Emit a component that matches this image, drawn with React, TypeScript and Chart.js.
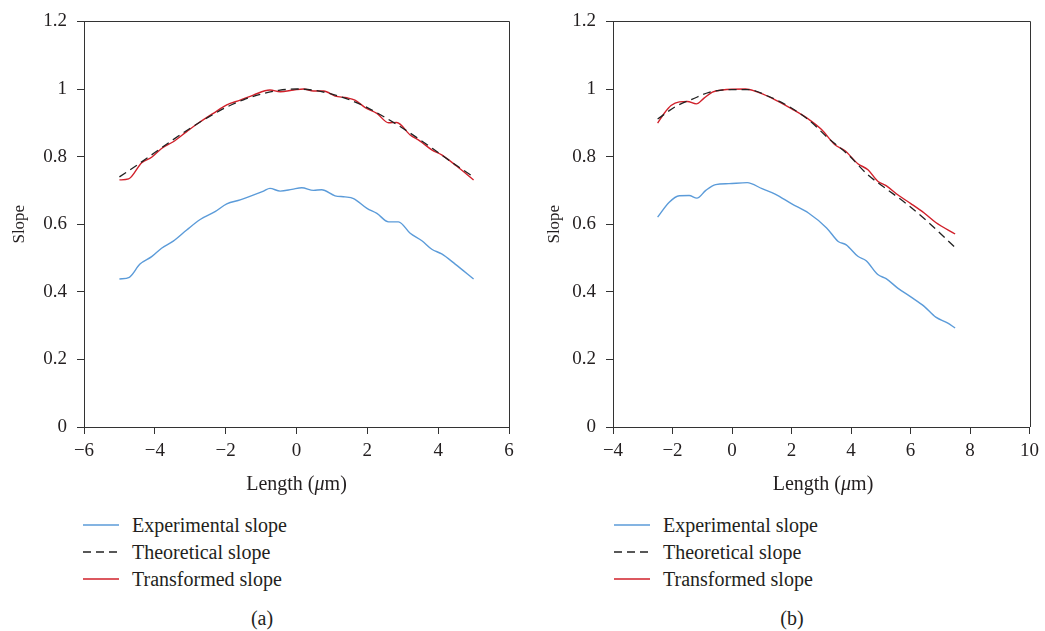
import React, { useEffect, useRef } from 'react';
import { Chart, registerables } from 'chart.js';

Chart.register(...registerables);

const FONT = '"Liberation Serif", "Times New Roman", serif';
const TEXT = '#231f20';
const AXIS = '#333333';
const BLUE = '#5b9bd9';
const RED = '#d0202a';
const DASH = '#222222';

// ---- Panel (a) data ----
const xA_exp = [-5.0, -4.72, -4.42, -4.09, -3.81, -3.48, -3.10, -2.72, -2.30, -1.97, -1.59, -1.17, -0.93, -0.75, -0.46, -0.13, 0.15, 0.48, 0.71, 1.09, 1.37, 1.61, 1.99, 2.27, 2.60, 2.88, 3.21, 3.54, 3.82, 4.10, 4.48, 5.0];
const yA_exp = [0.438, 0.443, 0.482, 0.504, 0.529, 0.550, 0.583, 0.614, 0.637, 0.660, 0.672, 0.688, 0.698, 0.706, 0.698, 0.703, 0.708, 0.700, 0.702, 0.684, 0.681, 0.676, 0.647, 0.632, 0.607, 0.607, 0.573, 0.551, 0.526, 0.512, 0.482, 0.438];

const xA_th = [-5, -4.5, -4, -3.5, -3, -2.5, -2, -1.5, -1, -0.5, 0, 0.5, 1, 1.5, 2, 2.5, 3, 3.5, 4, 4.5, 5];
const yA_th = [0.74, 0.775, 0.812, 0.849, 0.884, 0.916, 0.945, 0.968, 0.985, 0.996, 1.0, 0.996, 0.985, 0.968, 0.945, 0.916, 0.884, 0.849, 0.812, 0.775, 0.74];

const xA_tr = [-5.0, -4.74, -4.37, -4.09, -3.81, -3.48, -3.10, -2.72, -2.35, -1.97, -1.59, -1.22, -0.75, -0.46, -0.08, 0.20, 0.48, 0.77, 1.09, 1.42, 1.65, 1.94, 2.27, 2.60, 2.83, 3.21, 3.49, 3.82, 4.10, 4.52, 5.0];
const yA_tr = [0.731, 0.734, 0.782, 0.798, 0.824, 0.844, 0.874, 0.903, 0.928, 0.953, 0.967, 0.982, 0.997, 0.992, 0.997, 1.0, 0.994, 0.994, 0.979, 0.974, 0.967, 0.945, 0.928, 0.900, 0.901, 0.864, 0.846, 0.820, 0.805, 0.772, 0.731];

// ---- Panel (b) data ----
const xB_exp = [-2.5, -2.11, -1.77, -1.44, -1.18, -0.88, -0.55, -0.10, 0.51, 1.01, 1.45, 2.01, 2.57, 3.18, 3.57, 3.84, 4.23, 4.51, 4.90, 5.18, 5.57, 6.01, 6.46, 6.85, 7.24, 7.5];
const yB_exp = [0.621, 0.665, 0.684, 0.685, 0.677, 0.700, 0.717, 0.720, 0.723, 0.705, 0.689, 0.660, 0.633, 0.589, 0.549, 0.539, 0.505, 0.492, 0.451, 0.439, 0.411, 0.385, 0.357, 0.325, 0.308, 0.293];

const xB_th = [-2.5, -1.88, -1.33, -0.77, -0.10, 0.57, 1.23, 1.90, 2.57, 3.23, 3.90, 4.57, 5.23, 5.90, 6.57, 7.5];
const yB_th = [0.911, 0.949, 0.970, 0.990, 0.998, 0.998, 0.978, 0.949, 0.909, 0.855, 0.806, 0.746, 0.702, 0.658, 0.608, 0.531];

const xB_tr = [-2.5, -2.27, -2.05, -1.77, -1.50, -1.20, -0.94, -0.66, -0.33, 0.45, 0.79, 1.34, 2.01, 2.57, 3.01, 3.46, 3.79, 4.23, 4.57, 4.90, 5.18, 5.57, 6.01, 6.46, 6.85, 7.5];
const yB_tr = [0.899, 0.929, 0.951, 0.962, 0.963, 0.956, 0.973, 0.991, 0.997, 1.0, 0.993, 0.973, 0.941, 0.911, 0.880, 0.835, 0.818, 0.779, 0.761, 0.727, 0.714, 0.687, 0.661, 0.633, 0.605, 0.571];

const xRangeA = [-6, 6];
const xRangeB = [-4, 10];
const yRange = [0, 1.2];
const seriesLabels = ['Experimental slope', 'Theoretical slope', 'Transformed slope'];
const xTitle = 'Length (';
const yTitle = 'Slope';

const toPts = (xs: number[], ys: number[]) => xs.map((x, i) => ({ x, y: ys[i] }));

const framePlugin = {
  id: 'frame',
  afterDraw(chart: any) {
    const { ctx, chartArea: a } = chart;
    ctx.save();
    ctx.strokeStyle = AXIS;
    ctx.lineWidth = 1;
    const t = Math.round(a.top) + 0.5;
    const r = Math.round(a.right) + 0.5;
    ctx.beginPath();
    ctx.moveTo(a.left, t);
    ctx.lineTo(r, t);
    ctx.lineTo(r, a.bottom);
    ctx.stroke();
    ctx.restore();
  },
};

type Props = {
  left: number;
  width: number;
  height: number;
  axisWidth: number;
  padRight: number;
  titlePad: number;
  xRange: number[];
  exp: [number[], number[]];
  th: [number[], number[]];
  tr: [number[], number[]];
};

function SlopeChart(p: Props) {
  const ref = useRef<HTMLCanvasElement>(null);
  useEffect(() => {
    const tickFont = { family: FONT, size: 19 };
    const chart = new Chart(ref.current as HTMLCanvasElement, {
      type: 'line',
      data: {
        datasets: [
          {
            label: seriesLabels[1],
            data: toPts(p.th[0], p.th[1]),
            borderColor: DASH,
            borderWidth: 1.3,
            borderDash: [8, 5],
            pointRadius: 0,
            cubicInterpolationMode: 'monotone',
            fill: false,
          },
          {
            label: seriesLabels[2],
            data: toPts(p.tr[0], p.tr[1]),
            borderColor: RED,
            borderWidth: 1.4,
            pointRadius: 0,
            cubicInterpolationMode: 'monotone',
            fill: false,
          },
          {
            label: seriesLabels[0],
            data: toPts(p.exp[0], p.exp[1]),
            borderColor: BLUE,
            borderWidth: 1.4,
            pointRadius: 0,
            cubicInterpolationMode: 'monotone',
            fill: false,
          },
        ],
      } as any,
      options: {
        responsive: false,
        animation: false,
        devicePixelRatio: 1,
        layout: { padding: { top: 21, right: p.padRight, left: 0, bottom: 0 } },
        plugins: { legend: { display: false }, tooltip: { enabled: false } },
        scales: {
          x: {
            type: 'linear',
            min: p.xRange[0],
            max: p.xRange[1],
            ticks: {
              stepSize: 2,
              padding: 6,
              font: tickFont,
              color: TEXT,
              callback: (v: any) => (v < 0 ? '\u2212' + Math.abs(v) : String(v)),
            },
            grid: { drawOnChartArea: false, drawTicks: true, tickLength: 7, color: AXIS },
            border: { display: true, color: AXIS, width: 1 },
            afterFit: (s: any) => {
              s.height = p.height - 427;
            },
          },
          y: {
            type: 'linear',
            min: yRange[0],
            max: yRange[1],
            ticks: {
              stepSize: 0.2,
              padding: 10,
              font: tickFont,
              color: TEXT,
              callback: (v: any) => String(Math.round(v * 10) / 10),
            },
            grid: { drawOnChartArea: false, drawTicks: true, tickLength: 7, color: AXIS },
            border: { display: true, color: AXIS, width: 1 },
            title: {
              display: true,
              text: yTitle,
              color: TEXT,
              font: { family: FONT, size: 17 },
              padding: { top: p.titlePad, bottom: 0 },
            },
            afterFit: (s: any) => {
              s.width = p.axisWidth;
            },
          },
        },
      } as any,
      plugins: [framePlugin],
    });
    return () => chart.destroy();
  }, []);
  return (
    <canvas
      ref={ref}
      width={p.width}
      height={p.height}
      style={{ position: 'absolute', left: p.left, top: 0, width: p.width, height: p.height }}
    />
  );
}

const textStyle: React.CSSProperties = {
  position: 'absolute',
  fontFamily: FONT,
  fontSize: 20,
  color: TEXT,
  lineHeight: 1,
  whiteSpace: 'nowrap',
};

function Centered({ x, y, children }: { x: number; y: number; children: React.ReactNode }) {
  return <div style={{ ...textStyle, left: x, top: y, transform: 'translate(-50%, -50%)' }}>{children}</div>;
}

function Legend({ x, y }: { x: number; y: number }) {
  const rows = [
    { color: BLUE, dash: undefined as string | undefined },
    { color: DASH, dash: '8 5' },
    { color: RED, dash: undefined as string | undefined },
  ];
  return (
    <>
      {rows.map((r, i) => (
        <React.Fragment key={i}>
          <svg
            width={36}
            height={4}
            style={{ position: 'absolute', left: x, top: y + i * 27 - 2 }}
          >
            <line x1={0} y1={2} x2={36} y2={2} stroke={r.color} strokeWidth={1.3} strokeDasharray={r.dash} />
          </svg>
          <div style={{ ...textStyle, left: x + 49, top: y + i * 27, transform: 'translateY(-50%)' }}>
            {seriesLabels[i]}
          </div>
        </React.Fragment>
      ))}
    </>
  );
}

export default function App() {
  return (
    <div style={{ position: 'fixed', left: 0, top: 0, width: 1045, height: 631, background: '#fff', overflow: 'hidden' }}>
      <SlopeChart
        left={0}
        width={522}
        height={500}
        axisWidth={84}
        padRight={13}
        titlePad={9}
        xRange={xRangeA}
        exp={[xA_exp, yA_exp]}
        th={[xA_th, yA_th]}
        tr={[xA_tr, yA_tr]}
      />
      <SlopeChart
        left={522}
        width={523}
        height={500}
        axisWidth={91}
        padRight={12}
        titlePad={22}
        xRange={xRangeB}
        exp={[xB_exp, yB_exp]}
        th={[xB_th, yB_th]}
        tr={[xB_tr, yB_tr]}
      />
      <Centered x={296.5} y={483}>
        {xTitle}
        <i>μ</i>m)
      </Centered>
      <Centered x={823} y={483}>
        {xTitle}
        <i>μ</i>m)
      </Centered>
      <Legend x={83} y={525} />
      <Legend x={614} y={525} />
      <Centered x={262} y={618}>(a)</Centered>
      <Centered x={792} y={618}>(b)</Centered>
    </div>
  );
}
